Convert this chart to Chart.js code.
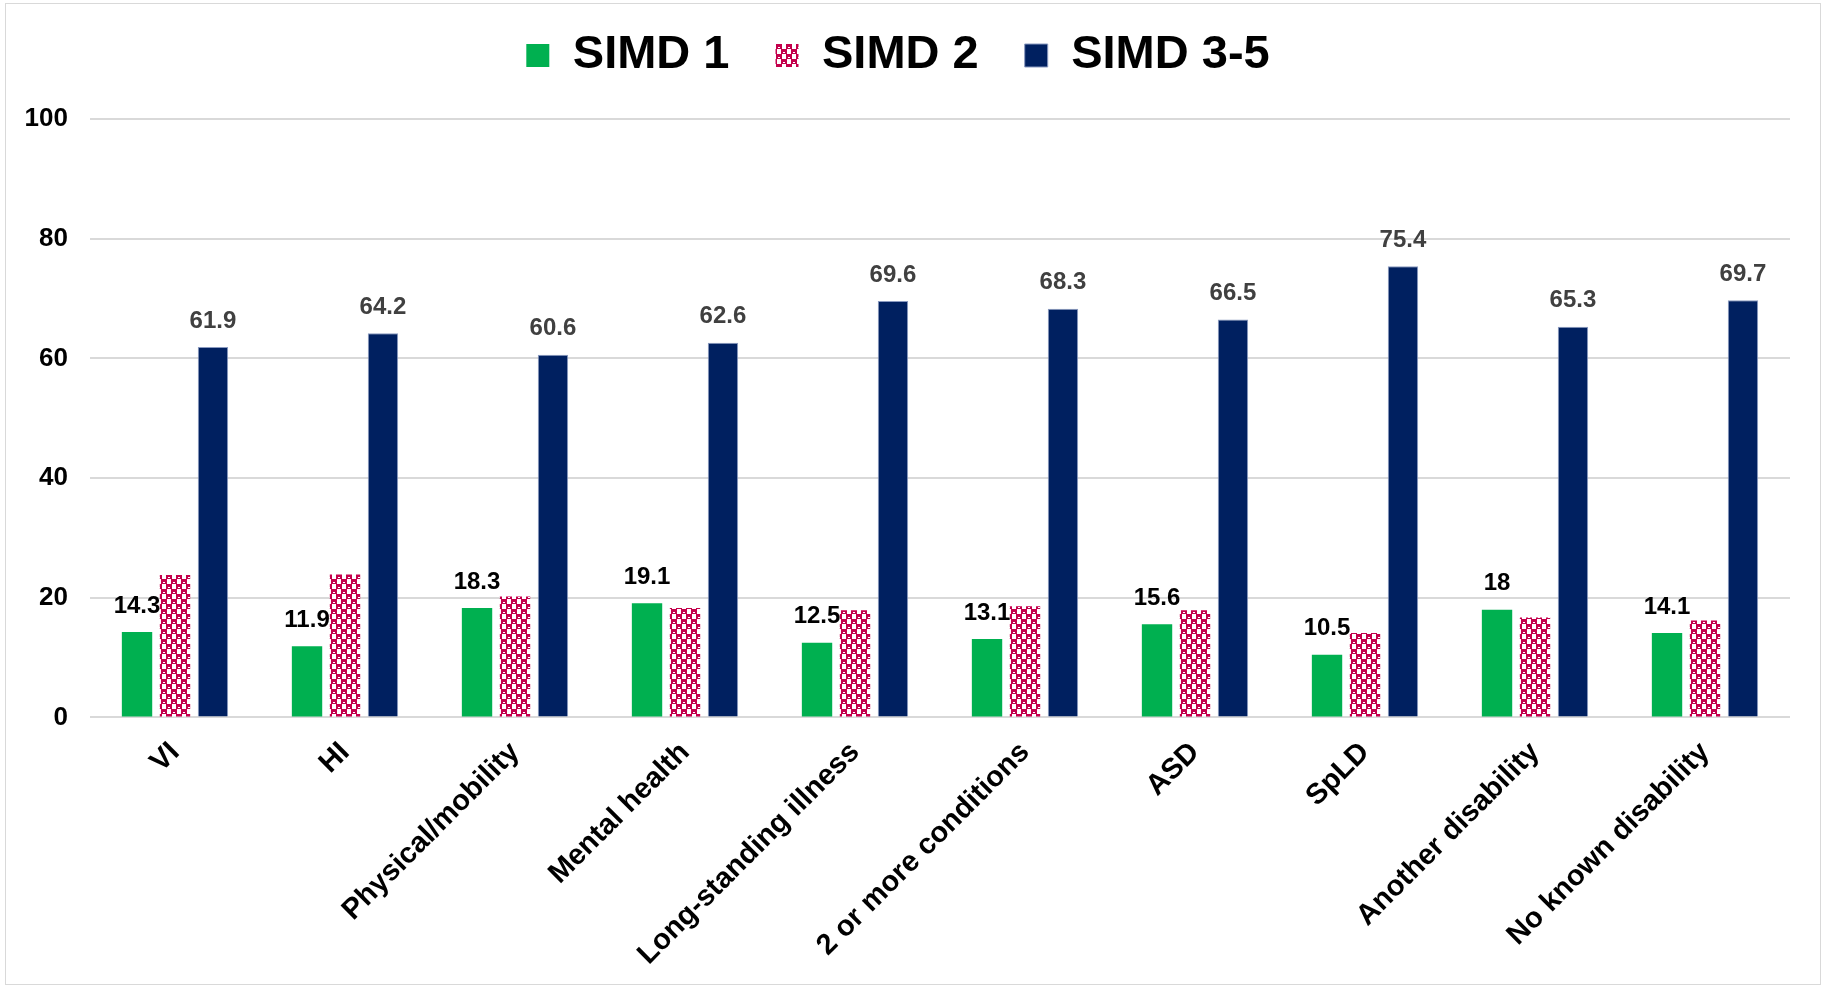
<!DOCTYPE html>
<html>
<head>
<meta charset="utf-8">
<script src="https://cdn.jsdelivr.net/npm/chart.js@4.4.1/dist/chart.umd.min.js"></script>
<style>
  html, body { margin: 0; padding: 0; background: #fff; }
  #wrap { position: absolute; left: 5px; top: 3px; width: 1816px; height: 982px; border: 1px solid #d9d9d9; box-sizing: border-box; }
</style>
</head>
<body>
<div id="wrap"><canvas id="myChart"></canvas></div>
<script>
var categories = ['VI', 'HI', 'Physical/mobility', 'Mental health', 'Long-standing illness',
  '2 or more conditions', 'ASD', 'SpLD', 'Another disability', 'No known disability'];
var simd1 = [14.3, 11.9, 18.3, 19.1, 12.5, 13.1, 15.6, 10.5, 18, 14.1];
var simd2 = [23.8, 23.9, 20.2, 18.3, 17.9, 18.6, 17.9, 14.1, 16.7, 16.2];
var simd35 = [61.9, 64.2, 60.6, 62.6, 69.6, 68.3, 66.5, 75.4, 65.3, 69.7];
var yTicks = [0, 20, 40, 60, 80, 100];

var FONT = '"Liberation Sans", Arial, sans-serif';

// checker pattern for SIMD 2
function makePattern() {
  var c = document.createElement('canvas');
  c.width = 10; c.height = 10;
  var p = c.getContext('2d');
  p.fillStyle = '#ffffff';
  p.fillRect(0, 0, 10, 10);
  p.fillStyle = '#c4004c';
  p.fillRect(0, 0, 6, 5);
  p.fillRect(5, 5, 5, 5);
  p.fillRect(0, 5, 1, 5);
  p.fillStyle = '#ffffff';
  p.fillRect(2, 3, 2, 1);
  p.fillRect(7, 8, 2, 1);
  return p.createPattern(c, 'repeat');
}

// value labels above SIMD 1 and SIMD 3-5 bars
var valueLabels = {
  id: 'valueLabels',
  afterDatasetsDraw: function(chart) {
    var ctx = chart.ctx;
    ctx.save();
    ctx.font = 'bold 24px ' + FONT;
    ctx.textAlign = 'center';
    ctx.textBaseline = 'bottom';
    chart.data.datasets.forEach(function(ds, i) {
      if (!ds.showLabels) return;
      ctx.fillStyle = ds.labelColor;
      chart.getDatasetMeta(i).data.forEach(function(bar, j) {
        ctx.fillText(String(ds.data[j]), bar.x, bar.y - 14);
      });
    });
    ctx.restore();
  }
};

// extra room under the legend
var legendGap = {
  id: 'legendGap',
  beforeInit: function(chart) {
    var fit = chart.legend.fit;
    chart.legend.fit = function() {
      fit.bind(chart.legend)();
      this.height += 30;
    };
  }
};

var ctx = document.getElementById('myChart').getContext('2d');
var myChart = new Chart(ctx, {
  type: 'bar',
  data: {
    labels: categories,
    datasets: [{
      label: 'SIMD 1',
      data: simd1,
      backgroundColor: '#00b050',
      showLabels: true,
      labelColor: '#000000'
    }, {
      label: 'SIMD 2',
      data: simd2,
      backgroundColor: makePattern(),
      showLabels: false
    }, {
      label: 'SIMD 3-5',
      data: simd35,
      backgroundColor: '#002060',
      borderColor: '#8a9ac0',
      borderWidth: 1,
      showLabels: true,
      labelColor: '#404040'
    }]
  },
  options: {
    responsive: true,
    maintainAspectRatio: false,
    animation: false,
    categoryPercentage: 0.67,
    barPercentage: 0.8,
    layout: { padding: { left: 0, right: 30, top: -18, bottom: 2 } },
    plugins: {
      tooltip: { enabled: false },
      legend: {
        position: 'top',
        labels: {
          color: '#000',
          font: { family: FONT, size: 47, weight: 'bold' },
          boxWidth: 23,
          boxHeight: 23,
          padding: 46
        }
      }
    },
    scales: {
      x: {
        grid: { display: false },
        border: { display: false },
        ticks: {
          color: '#000',
          padding: 10,
          font: { family: FONT, size: 29, weight: 'bold' },
          minRotation: 45,
          maxRotation: 45,
          autoSkip: false
        }
      },
      y: {
        min: 0,
        max: 100,
        afterBuildTicks: function(axis) {
          axis.ticks = yTicks.map(function(v) { return { value: v }; });
        },
        afterFit: function(axis) {
          axis.width = 84;
        },
        grid: { color: '#d9d9d9', lineWidth: 2, drawTicks: false },
        border: { display: false },
        ticks: {
          color: '#000',
          padding: 22,
          font: { family: FONT, size: 26, weight: 'bold' }
        }
      }
    }
  },
  plugins: [valueLabels, legendGap]
});
</script>
</body>
</html>
